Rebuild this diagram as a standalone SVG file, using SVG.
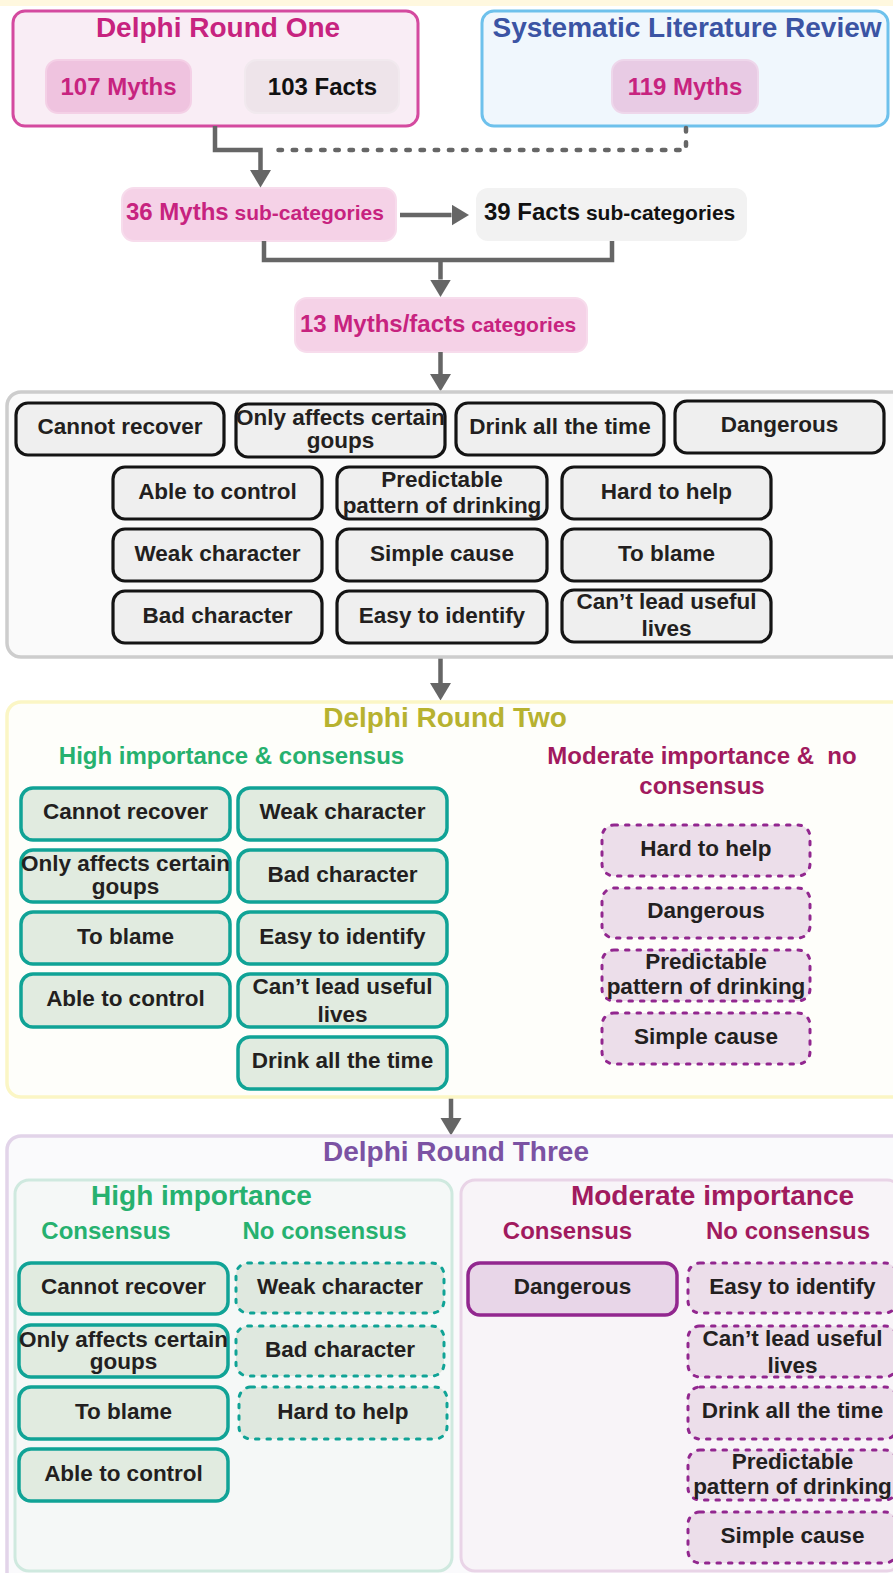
<svg xmlns="http://www.w3.org/2000/svg" width="893" height="1573" viewBox="0 0 893 1573">
<defs>
<style>
text{font-family:"Liberation Sans",Arial,Helvetica,sans-serif;font-weight:bold}
.title{font-size:28px;text-anchor:middle}
.n{font-size:22.5px;fill:#231f20;text-anchor:middle}
.sub{font-size:24px;text-anchor:middle}
.pink{fill:#c7237f}
.green{fill:#26b16f}
.maroon{fill:#a11a5e}
.blk rect{fill:#efefef;stroke:#141414;stroke-width:3.2}
.teal rect{fill:#e1ebe0;stroke:#10a396;stroke-width:3.5}
.tealdot rect{fill:#dfe8df;stroke:#10a396;stroke-width:3;stroke-dasharray:3.5 8;stroke-linecap:round}
.pur rect{fill:#e8d6e8;stroke:#92278f;stroke-width:3.5}
.purdot rect{fill:#ecdeea;stroke:#92278f;stroke-width:3;stroke-dasharray:3.5 8;stroke-linecap:round}
.conn{fill:none;stroke:#666666;stroke-width:4.5}
.dot{fill:none;stroke:#666666;stroke-width:4.5;stroke-dasharray:3.5 10.7;stroke-linecap:round}
</style>
<marker id="arr" markerUnits="userSpaceOnUse" markerWidth="18" markerHeight="22" refX="0" refY="10.5" orient="auto">
<path d="M0,0 L17.5,10.5 L0,21 Z" fill="#666666"/>
</marker>
</defs>
<rect x="0" y="0" width="893" height="6" fill="#fff8df"/>

<!-- containers -->
<g id="delphi-one">
<rect x="13" y="11" width="405" height="115" rx="12" fill="#f9edf5" stroke="#d44a9f" stroke-width="3"/>
<text x="218" y="37" class="title pink">Delphi Round One</text>
</g>
<g id="myths107">
<rect x="46" y="60" width="145" height="53" rx="12" fill="#efc3df" stroke="#f4d0e6" stroke-width="2"/>
<text x="118.5" y="95" class="sub pink">107 Myths</text>
</g>
<g id="facts103">
<rect x="245" y="60" width="154" height="53" rx="12" fill="#eee4ea" stroke="#f1e9ee" stroke-width="2"/>
<text x="322.5" y="95" class="sub" fill="#111111">103 Facts</text>
</g>
<g id="slr">
<rect x="482" y="11" width="406" height="115" rx="12" fill="#f0f7fd" stroke="#6ec1ec" stroke-width="3"/>
<text x="687" y="37" class="title" fill="#3b54a4">Systematic Literature Review</text>
</g>
<g id="myths119">
<rect x="612" y="60" width="146" height="53" rx="12" fill="#e8cbe4" stroke="#eed7eb" stroke-width="2"/>
<text x="685" y="95" class="sub pink">119 Myths</text>
</g>
<g id="myths36">
<rect x="122" y="188" width="274" height="53" rx="12" fill="#f5d2e7" stroke="#f7dcec" stroke-width="2"/>
<text x="126" y="220" class="pink"><tspan font-size="24">36 Myths</tspan><tspan font-size="21"> sub-categories</tspan></text>
</g>
<g id="facts39">
<rect x="476" y="188" width="271" height="53" rx="12" fill="#f2f2f2"/>
<text x="484" y="220" fill="#111111"><tspan font-size="24">39 Facts</tspan><tspan font-size="21"> sub-categories</tspan></text>
</g>
<g id="cat13">
<rect x="295" y="298" width="292" height="54" rx="12" fill="#f5d2e7" stroke="#f7dcec" stroke-width="2"/>
<text x="300" y="332" class="pink"><tspan font-size="24">13 Myths/facts</tspan><tspan font-size="21"> categories</tspan></text>
</g>

<g id="connectors">
<path class="conn" d="M215,126 V150 H260.5 V170" marker-end="url(#arr)"/>
<path class="dot" d="M686,128 V150 H268"/>
<path class="conn" d="M400,215 H451.5" marker-end="url(#arr)"/>
<path class="conn" d="M264,241 V260 H612 V241"/>
<path class="conn" d="M440.5,260 V279.5" marker-end="url(#arr)"/>
<path class="conn" d="M440.5,352 V374" marker-end="url(#arr)"/>
<path class="conn" d="M440.5,657 V683" marker-end="url(#arr)"/>
<path class="conn" d="M451,1097 V1118" marker-end="url(#arr)"/>
</g>

<!-- categories box -->
<g id="categories">
<rect x="7" y="392" width="900" height="265" rx="14" fill="#fafafa" stroke="#cdcdcd" stroke-width="3.5"/>
</g>
<g id="c-cannot" class="blk"><rect x="16" y="403" width="208" height="52" rx="12"/><text class="n" x="120" y="434">Cannot recover</text></g>
<g id="c-only" class="blk"><rect x="236" y="404" width="209" height="53" rx="12"/><text class="n" x="340.5" y="425">Only affects certain</text><text class="n" x="340.5" y="448">goups</text></g>
<g id="c-drink" class="blk"><rect x="456" y="403" width="208" height="52" rx="12"/><text class="n" x="560" y="434">Drink all the time</text></g>
<g id="c-danger" class="blk"><rect x="675" y="401" width="209" height="52" rx="12"/><text class="n" x="779.5" y="432">Dangerous</text></g>
<g id="c-able" class="blk"><rect x="113" y="467" width="209" height="52" rx="12"/><text class="n" x="217.5" y="499">Able to control</text></g>
<g id="c-pred" class="blk"><rect x="337" y="467" width="210" height="52" rx="12"/><text class="n" x="442" y="487">Predictable</text><text class="n" x="442" y="513">pattern of drinking</text></g>
<g id="c-hard" class="blk"><rect x="562" y="467" width="209" height="52" rx="12"/><text class="n" x="666.5" y="499">Hard to help</text></g>
<g id="c-weak" class="blk"><rect x="113" y="529" width="209" height="52" rx="12"/><text class="n" x="217.5" y="561">Weak character</text></g>
<g id="c-simple" class="blk"><rect x="337" y="529" width="210" height="52" rx="12"/><text class="n" x="442" y="561">Simple cause</text></g>
<g id="c-blame" class="blk"><rect x="562" y="529" width="209" height="52" rx="12"/><text class="n" x="666.5" y="561">To blame</text></g>
<g id="c-bad" class="blk"><rect x="113" y="591" width="209" height="52" rx="12"/><text class="n" x="217.5" y="623">Bad character</text></g>
<g id="c-easy" class="blk"><rect x="337" y="591" width="210" height="52" rx="12"/><text class="n" x="442" y="623">Easy to identify</text></g>
<g id="c-cant" class="blk"><rect x="562" y="590" width="209" height="52" rx="12"/><text class="n" x="666.5" y="609">Can’t lead useful</text><text class="n" x="666.5" y="636">lives</text></g>

<!-- Round Two -->
<g id="round-two">
<rect x="7" y="702" width="900" height="395" rx="14" fill="#fefefa" stroke="#fbf6c5" stroke-width="3.5"/>
<text x="445" y="727" class="title" fill="#b7b230">Delphi Round Two</text>
<text x="231.5" y="764" class="sub green">High importance &amp; consensus</text>
<text x="702" y="764" class="sub maroon" xml:space="preserve">Moderate importance &amp;  no</text>
<text x="702" y="794" class="sub maroon">consensus</text>
</g>
<g id="r2-cannot" class="teal"><rect x="21" y="788" width="209" height="52" rx="12"/><text class="n" x="125.5" y="819">Cannot recover</text></g>
<g id="r2-weak" class="teal"><rect x="238" y="788" width="209" height="52" rx="12"/><text class="n" x="342.5" y="819">Weak character</text></g>
<g id="r2-only" class="teal"><rect x="21" y="850" width="209" height="52" rx="12"/><text class="n" x="125.5" y="871">Only affects certain</text><text class="n" x="125.5" y="894">goups</text></g>
<g id="r2-bad" class="teal"><rect x="238" y="850" width="209" height="52" rx="12"/><text class="n" x="342.5" y="882">Bad character</text></g>
<g id="r2-blame" class="teal"><rect x="21" y="912" width="209" height="52" rx="12"/><text class="n" x="125.5" y="944">To blame</text></g>
<g id="r2-easy" class="teal"><rect x="238" y="912" width="209" height="52" rx="12"/><text class="n" x="342.5" y="944">Easy to identify</text></g>
<g id="r2-able" class="teal"><rect x="21" y="974" width="209" height="53" rx="12"/><text class="n" x="125.5" y="1006">Able to control</text></g>
<g id="r2-cant" class="teal"><rect x="238" y="974" width="209" height="53" rx="12"/><text class="n" x="342.5" y="994">Can’t lead useful</text><text class="n" x="342.5" y="1022">lives</text></g>
<g id="r2-drink" class="teal"><rect x="238" y="1037" width="209" height="52" rx="12"/><text class="n" x="342.5" y="1068">Drink all the time</text></g>
<g id="r2-hard" class="purdot"><rect x="602" y="825" width="208" height="51" rx="12"/><text class="n" x="706" y="856">Hard to help</text></g>
<g id="r2-danger" class="purdot"><rect x="602" y="888" width="208" height="50" rx="12"/><text class="n" x="706" y="918">Dangerous</text></g>
<g id="r2-pred" class="purdot"><rect x="602" y="950" width="208" height="51" rx="12"/><text class="n" x="706" y="969">Predictable</text><text class="n" x="706" y="994">pattern of drinking</text></g>
<g id="r2-simple" class="purdot"><rect x="602" y="1013" width="208" height="51" rx="12"/><text class="n" x="706" y="1044">Simple cause</text></g>

<!-- Round Three -->
<g id="round-three">
<rect x="7" y="1136" width="900" height="460" rx="14" fill="#fafafc" stroke="#e2d4e9" stroke-width="3.5"/>
<text x="456" y="1161" class="title" fill="#7b52a3">Delphi Round Three</text>
</g>
<g id="high-importance">
<rect x="15" y="1180" width="437" height="391" rx="14" fill="#f5f8f7" stroke="#cfe9df" stroke-width="3"/>
<text x="201.5" y="1205" class="title green">High importance</text>
<text x="106" y="1239" class="sub green">Consensus</text>
<text x="324.5" y="1239" class="sub green">No consensus</text>
</g>
<g id="moderate-importance">
<rect x="461" y="1180" width="440" height="391" rx="14" fill="#f8f4f8" stroke="#e9d4e7" stroke-width="3"/>
<text x="712.5" y="1205" class="title maroon">Moderate importance</text>
<text x="567.5" y="1239" class="sub maroon">Consensus</text>
<text x="788" y="1239" class="sub maroon">No consensus</text>
</g>
<g id="r3-cannot" class="teal"><rect x="19" y="1263" width="209" height="51" rx="12"/><text class="n" x="123.5" y="1294">Cannot recover</text></g>
<g id="r3-only" class="teal"><rect x="19" y="1325" width="209" height="52" rx="12"/><text class="n" x="123.5" y="1347">Only affects certain</text><text class="n" x="123.5" y="1369">goups</text></g>
<g id="r3-blame" class="teal"><rect x="19" y="1387" width="209" height="52" rx="12"/><text class="n" x="123.5" y="1419">To blame</text></g>
<g id="r3-able" class="teal"><rect x="19" y="1449" width="209" height="52" rx="12"/><text class="n" x="123.5" y="1481">Able to control</text></g>
<g id="r3-weak" class="tealdot"><rect x="236" y="1263" width="208" height="50" rx="12"/><text class="n" x="340" y="1294">Weak character</text></g>
<g id="r3-bad" class="tealdot"><rect x="236" y="1326" width="208" height="50" rx="12"/><text class="n" x="340" y="1357">Bad character</text></g>
<g id="r3-hard" class="tealdot"><rect x="239" y="1387" width="208" height="52" rx="12"/><text class="n" x="343" y="1419">Hard to help</text></g>
<g id="r3-danger" class="pur"><rect x="468" y="1263" width="209" height="52" rx="12"/><text class="n" x="572.5" y="1294">Dangerous</text></g>
<g id="r3-easy" class="purdot"><rect x="688" y="1263" width="209" height="50" rx="12"/><text class="n" x="792.5" y="1294">Easy to identify</text></g>
<g id="r3-cant" class="purdot"><rect x="688" y="1326" width="209" height="51" rx="12"/><text class="n" x="792.5" y="1346">Can’t lead useful</text><text class="n" x="792.5" y="1373">lives</text></g>
<g id="r3-drink" class="purdot"><rect x="688" y="1387" width="209" height="52" rx="12"/><text class="n" x="792.5" y="1418">Drink all the time</text></g>
<g id="r3-pred" class="purdot"><rect x="688" y="1450" width="209" height="50" rx="12"/><text class="n" x="792.5" y="1469">Predictable</text><text class="n" x="792.5" y="1494">pattern of drinking</text></g>
<g id="r3-simple" class="purdot"><rect x="688" y="1512" width="209" height="51" rx="12"/><text class="n" x="792.5" y="1543">Simple cause</text></g>
</svg>
